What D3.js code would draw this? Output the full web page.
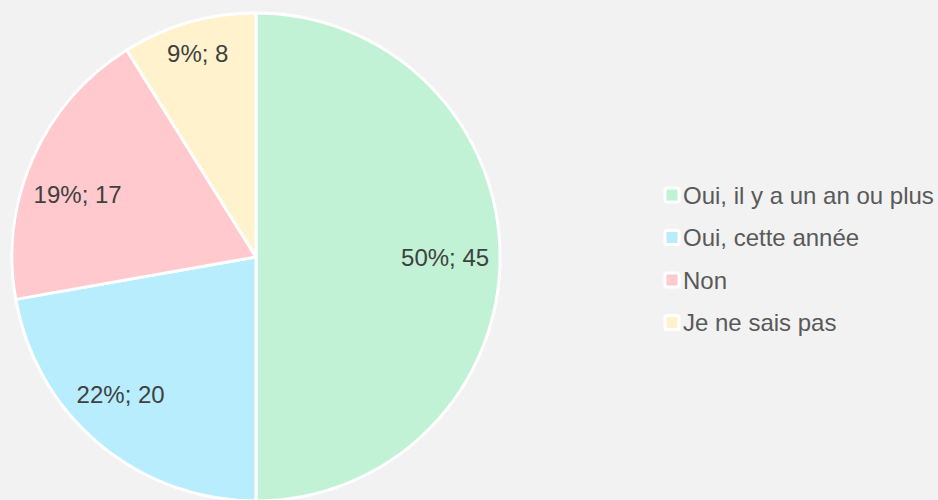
<!DOCTYPE html>
<html>
<head>
<meta charset="utf-8">
<script src="https://cdn.jsdelivr.net/npm/d3@7.9.0/dist/d3.min.js"></script>
<style>
  html, body { margin: 0; padding: 0; background: #f2f2f2; }
  svg { display: block; font-family: "Liberation Sans", Arial, sans-serif; }
</style>
</head>
<body>
<div id="chart"></div>
<script>
// Data
const categories = ["Oui, il y a un an ou plus", "Oui, cette année", "Non", "Je ne sais pas"];
const counts = [45, 20, 17, 8];
const colors = ["#c1f2d5", "#b8edfd", "#ffc9ce", "#fff2cc"];
// label placement: share of radius, and a small turn (degrees) off the slice middle
const labelPos = [0.775, 0.79, 0.775, 0.866];
const labelTurn = [0, 4.6, -4.6, 0];

const WIDTH = 938, HEIGHT = 500;
const cx = 256, cy = 257, radius = 244;

const svg = d3.select("#chart").append("svg")
    .attr("width", WIDTH)
    .attr("height", HEIGHT);

svg.append("rect").attr("width", WIDTH).attr("height", HEIGHT).attr("fill", "#f2f2f2");

const total = d3.sum(counts);
const data = categories.map((c, i) => ({
    name: c, value: counts[i], color: colors[i], lr: labelPos[i], turn: labelTurn[i]
}));

// clockwise from 12 o'clock, in data order
const pie = d3.pie().value(d => d.value).sort(null);
const arc = d3.arc().innerRadius(0).outerRadius(radius);

const pieG = svg.append("g").attr("transform", `translate(${cx},${cy})`);

const slices = pie(data);

pieG.selectAll("path.slice")
    .data(slices)
    .join("path")
    .attr("class", "slice")
    .attr("d", arc)
    .attr("fill", d => d.data.color)
    .attr("stroke", "#ffffff")
    .attr("stroke-width", 3)
    .attr("stroke-linejoin", "round");

pieG.selectAll("text.lbl")
    .data(slices)
    .join("text")
    .attr("class", "lbl")
    .attr("transform", d => {
        const r = radius * d.data.lr;
        const a = (d.startAngle + d.endAngle) / 2 + d.data.turn * Math.PI / 180;
        return `translate(${Math.sin(a) * r},${-Math.cos(a) * r})`;
    })
    .attr("text-anchor", "middle")
    .attr("dominant-baseline", "central")
    .attr("font-size", 24)
    .attr("fill", "#404040")
    .text(d => `${Math.round(d.data.value / total * 100)}%; ${d.data.value}`);

// Legend
const legend = svg.append("g").attr("transform", "translate(672,195)");
const rowH = 42.5;

const rows = legend.selectAll("g.row")
    .data(data)
    .join("g")
    .attr("class", "row")
    .attr("transform", (d, i) => `translate(0,${i * rowH})`);

rows.append("rect")
    .attr("x", -7).attr("y", -7)
    .attr("width", 14).attr("height", 14)
    .attr("rx", 2)
    .attr("fill", d => d.color)
    .attr("stroke", "#ffffff")
    .attr("stroke-width", 3);

rows.append("text")
    .attr("x", 11)
    .attr("y", 0)
    .attr("dominant-baseline", "central")
    .attr("font-size", 24)
    .attr("fill", "#595959")
    .text(d => d.name);
</script>
</body>
</html>
